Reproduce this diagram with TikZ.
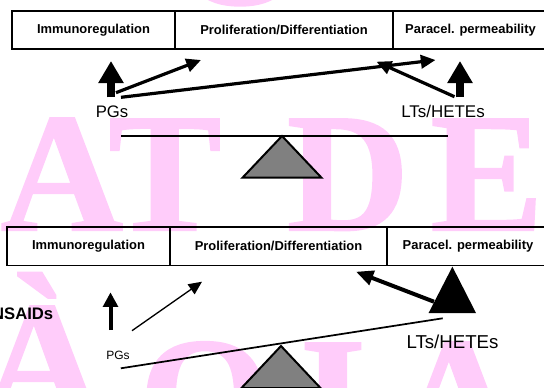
\documentclass[tikz,border=0pt]{standalone}
\usepackage{fontspec}
\setmainfont{Liberation Sans}
\newfontfamily\wmfont[FakeBold=1.2]{Liberation Serif}
\usepackage{tikz}
\usetikzlibrary{arrows.meta}
\definecolor{wpink}{RGB}{255,204,250}
\definecolor{fulcrumgray}{RGB}{128,128,128}

\begin{document}
\begin{tikzpicture}[x=0.75pt,y=-0.75pt]
		\tikzstyle{wmark}=[inner sep=0pt, anchor=base, text=wpink, font=\wmfont\bfseries\fontsize{127}{127}\selectfont]
		\tikzstyle{effect}=[draw=black, line width=1.1pt, inner sep=0pt, minimum height=28.6pt, font=\bfseries\fontsize{9.7}{11}\selectfont]
		\tikzstyle{lipid}=[inner sep=0pt, anchor=base]
		\tikzstyle{beam}=[line width=1.5pt]
		\tikzstyle{fulcrum}=[draw=black, line width=1.5pt, fill=fulcrumgray, line join=miter]
		\tikzstyle{fat_arrow}=[line width=6.5pt, -{Triangle[length=16.5pt,width=18pt]}]
		\tikzstyle{mid_arrow}=[line width=2.4pt, -{Triangle[length=11pt,width=10pt]}]
		\tikzstyle{thin_arrow}=[line width=1pt, -{Triangle[length=10pt,width=9pt]}]

		\useasboundingbox (0,0) rectangle (544,387);
		\clip (0,0) rectangle (544,387);

		% watermark
		\node (wmTop) [wmark] at (240,4) {O};
		\node (wmA) [wmark] at (62,230) {A};
		\node (wmT) [wmark] at (165,230) {T};
		\node (wmD) [wmark] at (348,230) {D};
		\node (wmE) [wmark] at (487,230) {E};
		\node (wmAgrave) [wmark] at (42,418) {À};
		\node (wmO) [wmark] at (205,454) {O};
		\node (wmI) [wmark] at (333,454) {I};
		\node (wmA2) [wmark] at (457,454) {A};

		% upper balance
		\node (immTop) [effect, minimum width=122.25pt] at (93.5,30) {Immunoregulation};
		\node (proTop) [effect, minimum width=163.5pt] at (284,30) {Proliferation/Differentiation};
		\node (parTop) [effect, minimum width=116.25pt] at (470.5,30) {Paracel. permeability};

		\node (pgsTop) [lipid, font=\fontsize{12.5}{14}\selectfont] at (112,117) {PGs};
		\node (ltsTop) [lipid, font=\fontsize{12.7}{15}\selectfont] at (443,117) {LTs/HETEs};

		\coordinate (pgsUp) at (111,97.3);
		\coordinate (immIn) at (111,61);
		\coordinate (pgsMid) at (116,92.7);
		\coordinate (proIn) at (201,60);
		\coordinate (pgsFar) at (121,97.3);
		\coordinate (parIn) at (435.5,60);
		\coordinate (ltsMid) at (454.5,96.7);
		\coordinate (proInR) at (376.5,61.7);
		\coordinate (ltsUp) at (460,97.3);
		\coordinate (parInR) at (460,61);

		\draw[fat_arrow] (pgsUp) -- (immIn);
		\draw[mid_arrow] (pgsMid) -- (proIn);
		\draw[mid_arrow] (pgsFar) -- (parIn);
		\draw[mid_arrow] (ltsMid) -- (proInR);
		\draw[fat_arrow] (ltsUp) -- (parInR);

		\coordinate (beamL) at (121,135.7);
		\coordinate (beamR) at (447.6,135.7);
		\draw[beam] (beamL) -- (beamR);
		\coordinate (pivotTop) at (282,136);
		\draw[fulcrum] (pivotTop) -- ++(-39.5,41.7) -- ++(79,0) -- cycle;

		% lower balance
		\node (immBot) [effect, minimum width=122.25pt] at (88.5,246.25) {Immunoregulation};
		\node (proBot) [effect, minimum width=162.75pt] at (278.5,246.25) {Proliferation/Differentiation};
		\node (parBot) [effect, minimum width=121.5pt] at (468,246.25) {Paracel. permeability};

		\node (nsaids) [lipid, anchor=base east, font=\bfseries\fontsize{12.5}{15}\selectfont] at (53.5,319) {NSAIDs};
		\node (pgsBot) [lipid, font=\fontsize{9}{11}\selectfont] at (118,359.3) {PGs};
		\node (ltsBot) [lipid, font=\fontsize{14}{17}\selectfont] at (452.5,348.3) {LTs/HETEs};

		\coordinate (pgsUpB) at (110.5,330);
		\coordinate (immInB) at (110.5,292.3);
		\coordinate (pgsMidB) at (132,330.7);
		\coordinate (proInB) at (202,281.7);
		\coordinate (ltsMidB) at (434,301.7);
		\coordinate (proInRB) at (356,271.7);

		\draw[line width=3pt, -{Triangle[length=11pt,width=11pt]}] (pgsUpB) -- (immInB);
		\draw[thin_arrow] (pgsMidB) -- (proInB);
		\draw[line width=3pt, -{Triangle[length=13pt,width=11pt]}] (ltsMidB) -- (proInRB);

		\fill (452.4,266.7) -- (428.6,313) -- (476,313) -- cycle;

		\coordinate (tiltL) at (120.8,368.3);
		\coordinate (tiltR) at (442.7,318.3);
		\draw[line width=1.3pt] (tiltL) -- (tiltR);
		\coordinate (pivotBot) at (281,346);
		\draw[fulcrum] (pivotBot) -- ++(-39.5,42) -- ++(79,0) -- cycle;

	\end{tikzpicture}
\end{document}
